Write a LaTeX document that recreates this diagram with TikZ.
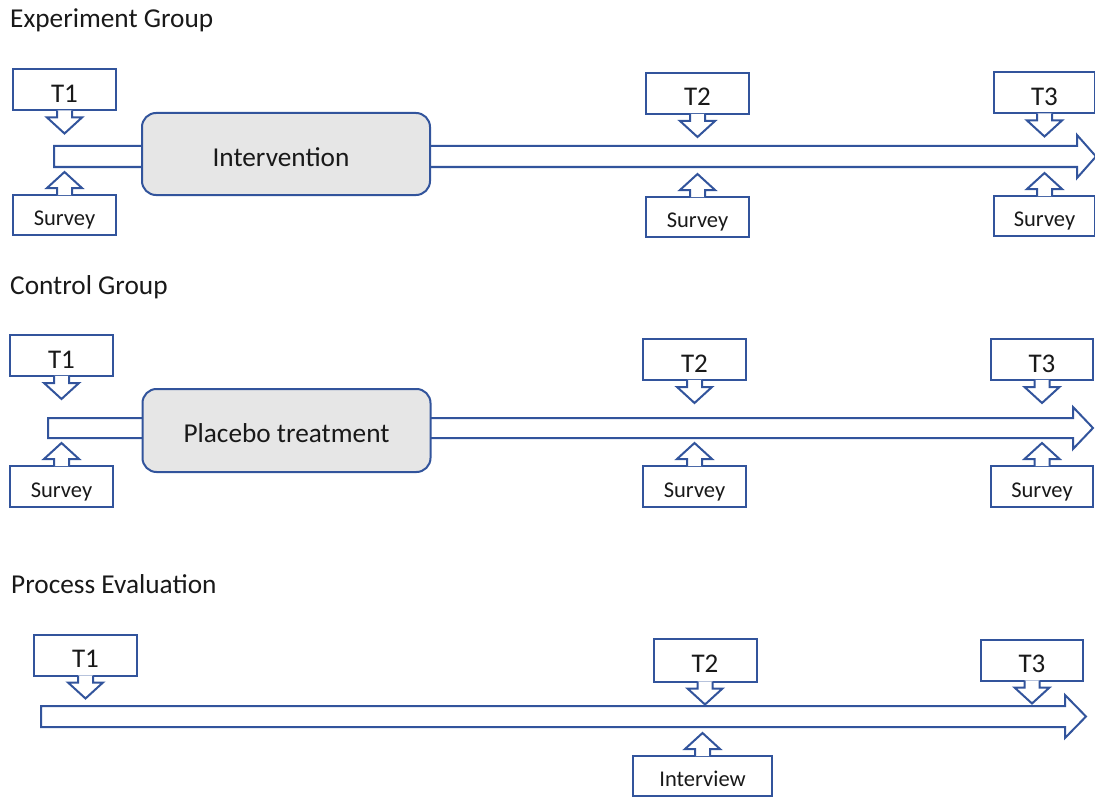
\documentclass[tikz,border=0pt]{standalone}
\usepackage{fontspec}
\setmainfont{Carlito}
\usepackage{tikz}
\usetikzlibrary{positioning}
\definecolor{lineblue}{RGB}{50,84,156}
\definecolor{boxgray}{RGB}{230,230,230}
\definecolor{inkgray}{RGB}{25,25,25}
\tikzset{
  callline/.style={draw=lineblue,line width=2pt},
  tbox/.style={callline,fill=white,minimum width=103pt,minimum height=41pt,
    inner sep=0pt,text=inkgray,font=\fontsize{27}{32}\selectfont,
    text height=25pt,text depth=0pt},
  sbox/.style={tbox,font=\fontsize{22.5}{27}\selectfont,text height=21pt},
  actbox/.style={callline,fill=boxgray,rounded corners=14pt,
    minimum width=288pt,minimum height=82pt,text=inkgray,
    font=\fontsize{27.3}{32}\selectfont,text height=24pt,text depth=0pt},
  grouplbl/.style={anchor=base west,inner sep=0pt,text=inkgray,
    font=\fontsize{27.3}{32}\selectfont},
  band/.style={callline,fill=white},
  pdown/.pic={
    \fill[white] (-7.5,-1.2) -- (-7.5,6) -- (-17.5,6) -- (0,22)
      -- (17.5,6) -- (7.5,6) -- (7.5,-1.2) -- cycle;
    \draw[callline] (-7.5,-1) -- (-7.5,6) -- (-17.5,6) -- (0,22)
      -- (17.5,6) -- (7.5,6) -- (7.5,-1);
  },
}
\begin{document}
\begin{tikzpicture}[x=1pt,y=-1pt]
  \useasboundingbox (0,0) rectangle (1095,797);

  % experiment group
  \node[grouplbl] (eg) at (10,28) {Experiment Group};
  \draw[band] (54,146) -- (1077,146) -- (1077,135) -- (1096,156.5)
    -- (1077,178) -- (1077,167) -- (54,167) -- cycle;
  \node[actbox] (eint) at (286,154) {Intervention\rule{10pt}{0pt}};
  \node[tbox] (et1) at (64.5,90) {T1};
  \node[tbox] (et2) at (697.5,93.5) {T2};
  \node[tbox,minimum width=101pt] (et3) at (1044.5,93) {T3};
  \node[sbox,minimum height=40pt] (es1) at (64.5,215) {Survey};
  \node[sbox,minimum height=40pt] (es2) at (697.5,217) {Survey};
  \node[sbox,minimum height=40pt,minimum width=101pt] (es3) at (1044.5,216) {Survey};
  \foreach \n in {et1,et2,et3} \pic at (\n.south) {pdown};
  \foreach \n in {es1,es2,es3} \pic[yscale=-1] at (\n.north) {pdown};

  % control group
  \node[grouplbl] (cg) at (10,294.5) {Control Group};
  \draw[band] (48,418) -- (1073,418) -- (1073,407) -- (1093,428)
    -- (1073,449) -- (1073,438) -- (48,438) -- cycle;
  \node[actbox,minimum height=83pt] (cpla) at (286.5,430.5) {Placebo treatment};
  \node[tbox] (ct1) at (61.5,355.5) {T1};
  \node[tbox] (ct2) at (694.5,359.5) {T2};
  \node[tbox,minimum width=102pt] (ct3) at (1042,359.5) {T3};
  \node[sbox] (cs1) at (61.5,486.5) {Survey};
  \node[sbox] (cs2) at (694.5,486.5) {Survey};
  \node[sbox,minimum width=102pt] (cs3) at (1042,486.5) {Survey};
  \foreach \n in {ct1,ct2,ct3} \pic at (\n.south) {pdown};
  \foreach \n in {cs1,cs2,cs3} \pic[yscale=-1] at (\n.north) {pdown};

  % process evaluation
  \node[grouplbl] (pe) at (11,593) {Process Evaluation};
  \draw[band] (41,706) -- (1065,706) -- (1065,695) -- (1086,716.5)
    -- (1065,738) -- (1065,727) -- (41,727) -- cycle;
  \node[tbox] (pt1) at (85.5,655) {T1};
  \node[tbox,minimum height=43pt] (pt2) at (705,660) {T2};
  \node[tbox,minimum width=102pt] (pt3) at (1032,660) {T3};
  \node[sbox,minimum width=139pt,minimum height=40pt] (pint) at (702.5,776) {Interview};
  \foreach \n in {pt1,pt2,pt3} \pic at (\n.south) {pdown};
  \pic[yscale=-1] at (pint.north) {pdown};
\end{tikzpicture}
\end{document}
